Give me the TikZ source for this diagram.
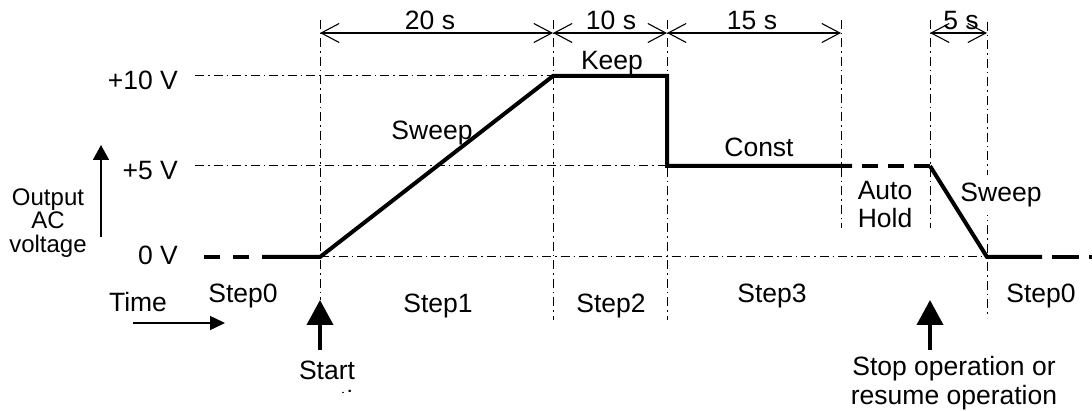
\documentclass[tikz,border=0pt]{standalone}
\usepackage{fontspec}
\setmainfont{Liberation Sans}
\usetikzlibrary{arrows.meta}
\begin{document}
\begin{tikzpicture}[x=1pt,y=-1pt,
  lbl/.style={font=\fontsize{26.5}{29}\selectfont, inner sep=0pt, anchor=base},
  gridline/.style={line width=1pt, dash pattern=on 9pt off 4pt on 1.5pt off 4pt},
  sig/.style={line width=4pt},
  sigdash/.style={line width=4pt, dash pattern=on 16pt off 13pt},
  dim/.style={line width=1.1pt, {Straight Barb[length=18pt,width=19pt]}-{Straight Barb[length=18pt,width=19pt]}},
  bigarrow/.style={line width=4pt, -{Triangle[length=25pt,width=26pt]}},
]
\useasboundingbox (0,0) rectangle (1092,411);
\fill[white] (0,0) rectangle (1092,411);

% grid coordinates
\coordinate (h10a) at (195,76);  \coordinate (h10b) at (553,76);
\coordinate (h5a)  at (195,166); \coordinate (h5b)  at (667,166);
\coordinate (h0a)  at (320,257); \coordinate (h0b)  at (987,257);
\coordinate (v0a) at (320,20);  \coordinate (v0b) at (320,300);
\coordinate (v1a) at (553,20);  \coordinate (v1b) at (553,320);
\coordinate (v2a) at (667,20);  \coordinate (v2b) at (667,320);
\coordinate (v3a) at (841,20);  \coordinate (v3b) at (841,228);
\coordinate (v4a) at (930,20);  \coordinate (v4b) at (930,228);
\coordinate (v5a) at (987,22);  \coordinate (v5b) at (987,318);

\draw[gridline] (h10a) -- (h10b);
\draw[gridline] (h5a) -- (h5b);
\draw[gridline] (h0a) -- (h0b);
\draw[gridline] (v0a) -- (v0b);
\draw[gridline] (v1a) -- (v1b);
\draw[gridline] (v2a) -- (v2b);
\draw[gridline] (v3a) -- (v3b);
\draw[gridline] (v4a) -- (v4b);
\draw[gridline] (v5a) -- (v5b);

% label covering grid line
\node[lbl, fill=white, inner xsep=1pt, inner ysep=8pt] (sweep2) at (1001,202) {Sweep};

% dimension arrows
\coordinate (d0) at (320,33); \coordinate (d1) at (553,33);
\coordinate (d2) at (667,33); \coordinate (d3) at (841,33);
\coordinate (d4) at (930,33); \coordinate (d5) at (987,33);
\draw[dim] (d0) -- (d1);
\draw[dim] (d1) -- (d2);
\draw[dim] (d2) -- (d3);
\draw[dim] (d4) -- (d5);

% signal
\coordinate (s0) at (204,257); \coordinate (s1) at (262,257);
\coordinate (p0) at (320,257); \coordinate (p1) at (553,76);
\coordinate (p2) at (667,76);  \coordinate (p3) at (667,166);
\coordinate (p4) at (852,166); \coordinate (p5) at (930,166);
\coordinate (p6) at (987,257); \coordinate (p7) at (1042,257);
\coordinate (p8) at (1094,257);
\draw[sigdash] (s0) -- (s1);
\draw[sig] (s1) -- (p0) -- (p1) -- (p2) -- (p3) -- (p4);
\draw[sigdash, dash pattern=on 16pt off 10pt, dash phase=16pt] (p4) -- (p5);
\draw[sig] (p5) -- (p6) -- (p7);
\draw[sigdash, dash pattern=on 27pt off 10pt, dash phase=27pt] (p7) -- (p8);

% axis arrows
\coordinate (ya) at (101,237); \coordinate (yb) at (101,145);
\draw[line width=1.8pt, -{Triangle[length=15pt,width=16pt]}] (ya) -- (yb);
\coordinate (ta) at (133,323); \coordinate (tb) at (225,323);
\draw[line width=1.5pt, -{Triangle[length=15pt,width=14pt]}] (ta) -- (tb);

% start / stop arrows
\coordinate (sa) at (320,350); \coordinate (sb) at (320,300);
\draw[bigarrow] (sa) -- (sb);
\coordinate (ra) at (930,350); \coordinate (rb) at (930,300);
\draw[bigarrow] (ra) -- (rb);

% labels
\node[lbl, anchor=base east] (l10) at (178,90) {+10 V};
\node[lbl, anchor=base east] (l5) at (178,180) {+5 V};
\node[lbl, anchor=base east] (l0) at (178,265) {0 V};
\node[lbl, font=\fontsize{24}{20}\selectfont] (out) at (48,206)
  {\setlength{\tabcolsep}{0pt}\begin{tabular}[t]{c}Output\\AC\\voltage\end{tabular}};
\node[lbl] (time) at (138,312) {Time};

\node[lbl] (t20) at (430,30) {20 s};
\node[lbl] (t10) at (611,30) {10 s};
\node[lbl] (t15) at (752,30) {15 s};
\node[lbl] (t5) at (961,30) {5 s};

\node[lbl] (keep) at (612,70) {Keep};
\node[lbl] (sweep1) at (432,140) {Sweep};
\node[lbl] (const) at (759,157) {Const};
\node[lbl] (auto) at (885,200) {Auto};
\node[lbl] (hold) at (885,228) {Hold};

\node[lbl] (st0a) at (243,303) {Step0};
\node[lbl] (st1) at (438,313) {Step1};
\node[lbl] (st2) at (611,313) {Step2};
\node[lbl] (st3) at (772,303) {Step3};
\node[lbl] (st0b) at (1041,303) {Step0};

\begin{scope}
\clip (240,330) rectangle (420,392.5);
\node[lbl] (start) at (327,380)
  {\setlength{\tabcolsep}{0pt}\begin{tabular}[t]{c}Start\\operation\end{tabular}};
\end{scope}
\node[lbl] (stop) at (954,375)
  {\setlength{\tabcolsep}{0pt}\begin{tabular}[t]{c}Stop operation or\\resume operation\end{tabular}};
\end{tikzpicture}
\end{document}
